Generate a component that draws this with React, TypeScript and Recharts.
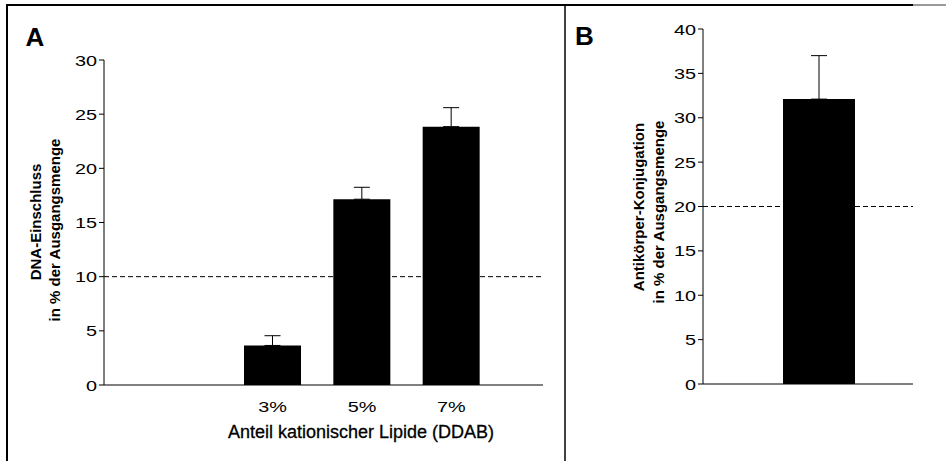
import React from 'react';
import { BarChart, Bar, XAxis, YAxis, ReferenceLine, ErrorBar } from 'recharts';

const FONT = '"Liberation Sans", Arial, Helvetica, sans-serif';

// Panel A data
const lipidCategories = ['3%', '5%', '7%'];
const dnaValues = [3.65, 17.15, 23.85];
const dnaErrors = [0.9, 1.1, 1.75];
const dnaTicks = [0, 5, 10, 15, 20, 25, 30];
const dnaThreshold = 10;

// Panel B data
const antibodyCategories = [''];
const antibodyValues = [32.1];
const antibodyErrors = [4.9];
const antibodyTicks = [0, 5, 10, 15, 20, 25, 30, 35, 40];
const antibodyThreshold = 20;

const dataA = lipidCategories.map((c, i) => ({ cat: c, value: dnaValues[i], err: [0, dnaErrors[i]] }));
const dataB = antibodyCategories.map((c, i) => ({ cat: c, value: antibodyValues[i], err: [0, antibodyErrors[i]] }));

const YTick = (props: any) => {
  const { x, y, payload } = props;
  return (
    <g transform={`translate(${x},${y})`}>
      <text x={0} y={0} dy="0.36em" textAnchor="end" transform="scale(1.28,1)" fontSize={15.5} fontFamily={FONT} fill="#000">
        {payload.value}
      </text>
    </g>
  );
};

const XTick = (props: any) => {
  const { x, y, payload } = props;
  return (
    <g transform={`translate(${x},${y})`}>
      <text x={0} y={27.5} textAnchor="middle" transform="scale(1.28,1)" fontSize={15.5} fontFamily={FONT} fill="#000">
        {payload.value}
      </text>
    </g>
  );
};

export default function App() {
  return (
    <div style={{ position: 'absolute', left: 0, top: 0, width: 946, height: 461, background: '#fff', overflow: 'hidden' }}>
      <div style={{ position: 'absolute', left: 0, top: 0 }}>
        <BarChart width={565} height={461} data={dataA} margin={{ top: 60, right: 22, bottom: 0, left: 0 }} barSize={57}>
          <XAxis
            dataKey="cat"
            height={76}
            axisLine={{ stroke: '#000' }}
            tickLine={false}
            tickSize={0}
            tickMargin={0}
            tick={(p: any) => <XTick {...p} />}
            padding={{ left: 124, right: 47 }}
            interval={0}
          />
          <YAxis
            width={104}
            domain={[0, 30]}
            ticks={dnaTicks}
            interval={0}
            axisLine={{ stroke: '#000' }}
            tickLine={{ stroke: '#000' }}
            tickSize={5}
            tickMargin={2}
            tick={(p: any) => <YTick {...p} />}
            allowDataOverflow
          />
          <ReferenceLine y={dnaThreshold} stroke="#000" strokeDasharray="5 3" />
          <Bar dataKey="value" fill="#000" isAnimationActive={false}>
            <ErrorBar dataKey="err" width={8} stroke="#000" strokeWidth={1} isAnimationActive={false} />
          </Bar>
        </BarChart>
      </div>
      <div style={{ position: 'absolute', left: 565, top: 0 }}>
        <BarChart width={381} height={461} data={dataB} margin={{ top: 29, right: 33, bottom: 0, left: 0 }} barSize={72}>
          <XAxis
            dataKey="cat"
            height={77}
            axisLine={{ stroke: '#000' }}
            tickLine={false}
            tick={false}
            padding={{ left: 22, right: 0 }}
          />
          <YAxis
            width={138}
            domain={[0, 40]}
            ticks={antibodyTicks}
            interval={0}
            axisLine={{ stroke: '#000' }}
            tickLine={{ stroke: '#000' }}
            tickSize={5}
            tickMargin={2}
            tick={(p: any) => <YTick {...p} />}
            allowDataOverflow
          />
          <ReferenceLine y={antibodyThreshold} stroke="#000" strokeDasharray="5 3" />
          <Bar dataKey="value" fill="#000" isAnimationActive={false}>
            <ErrorBar dataKey="err" width={8} stroke="#000" strokeWidth={1} isAnimationActive={false} />
          </Bar>
        </BarChart>
      </div>
      <svg width={946} height={461} style={{ position: 'absolute', left: 0, top: 0, pointerEvents: 'none' }}>
        <line x1={6} y1={5} x2={913} y2={5} stroke="#000" strokeWidth={2} />
        <line x1={913} y1={5} x2={946} y2={5} stroke="#999" strokeWidth={2} />
        <line x1={7} y1={4} x2={7} y2={461} stroke="#000" strokeWidth={2} />
        <line x1={565} y1={5} x2={565} y2={461} stroke="#000" strokeWidth={1.5} />
        <text x={25.5} y={46} fontSize={26} fontWeight="bold" fontFamily={FONT} fill="#000">A</text>
        <text x={575} y={45} fontSize={26} fontWeight="bold" fontFamily={FONT} fill="#000">B</text>
        <text transform="translate(41,222) rotate(-90)" textAnchor="middle" fontSize={15} fontWeight="bold" fontFamily={FONT} fill="#000">DNA-Einschluss</text>
        <text transform="translate(60,230) rotate(-90)" textAnchor="middle" fontSize={15} fontWeight="bold" fontFamily={FONT} fill="#000">in % der Ausgangsmenge</text>
        <text transform="translate(644,207) rotate(-90)" textAnchor="middle" fontSize={15} fontWeight="bold" fontFamily={FONT} fill="#000">Antikörper-Konjugation</text>
        <text transform="translate(664,212) rotate(-90)" textAnchor="middle" fontSize={15} fontWeight="bold" fontFamily={FONT} fill="#000">in % der Ausgangsmenge</text>
        <text x={361} y={438} textAnchor="middle" fontSize={18} fontFamily={FONT} fill="#000" stroke="#000" strokeWidth={0.3}>Anteil kationischer Lipide (DDAB)</text>
      </svg>
    </div>
  );
}
